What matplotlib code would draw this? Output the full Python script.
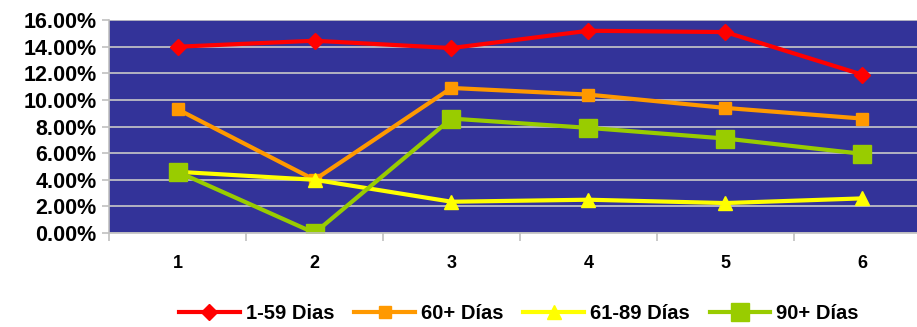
import matplotlib.pyplot as plt
from matplotlib.ticker import FixedLocator, PercentFormatter

plt.rcParams['font.family'] = ['Liberation Sans', 'DejaVu Sans']

# Data (percent)
periods = [1, 2, 3, 4, 5, 6]
dias_1_59 = [14.0, 14.45, 13.9, 15.2, 15.1, 11.9]
dias_60 = [9.3, 4.0, 10.9, 10.4, 9.4, 8.6]
dias_61_89 = [4.6, 4.0, 2.35, 2.5, 2.25, 2.6]
dias_90 = [4.6, 0.0, 8.6, 7.9, 7.1, 5.95]

fig = plt.figure(figsize=(9.17, 3.27), dpi=100)
ax = fig.add_axes([0.119, 0.2875, 0.896, 0.651])
ax.set_facecolor('#333399')

ax.plot(periods, dias_1_59, color='#FF0000', lw=3, marker='D', ms=8, label='1-59 Dias')
ax.plot(periods, dias_60, color='#FF9900', lw=3, marker='s', ms=8, label='60+ Días')
ax.plot(periods, dias_61_89, color='#FFFF00', lw=3, marker='^', ms=10, label='61-89 Días')
ax.plot(periods, dias_90, color='#99CC00', lw=3, marker='s', ms=13, label='90+ Días')

ax.set_xlim(0.5, 6.5)
ax.set_ylim(0, 16)
ax.set_yticks(range(0, 17, 2))
ax.yaxis.set_major_formatter(PercentFormatter(decimals=2))
ax.grid(axis='y', color='#C8C8C8', lw=1.2)
ax.set_axisbelow(True)

ax.set_xticks(periods)
ax.xaxis.set_minor_locator(FixedLocator([0.5 + i for i in range(7)]))
ax.tick_params(axis='x', which='major', length=0, pad=16, labelsize=13)
ax.tick_params(axis='x', which='minor', length=6, color='#C0C0C0', width=1.2)
ax.tick_params(axis='y', length=5, color='#C0C0C0', width=1.2, labelsize=15.5, pad=4)
for lbl in ax.get_xticklabels() + ax.get_yticklabels():
    lbl.set_fontweight('bold')

for side in ['top', 'right']:
    ax.spines[side].set_visible(False)
ax.spines['left'].set_color('#C0C0C0')
ax.spines['bottom'].set_color('#C0C0C0')
ax.spines['left'].set_linewidth(1.2)
ax.spines['bottom'].set_linewidth(1.2)

fig.legend(loc='center', bbox_to_anchor=(0.566, 0.04), ncol=4, frameon=False,
           prop={'weight': 'bold', 'size': 14.5}, handlelength=3.0,
           handletextpad=0.3, columnspacing=1.0, borderaxespad=0)

plt.savefig('out.png', dpi=100)
